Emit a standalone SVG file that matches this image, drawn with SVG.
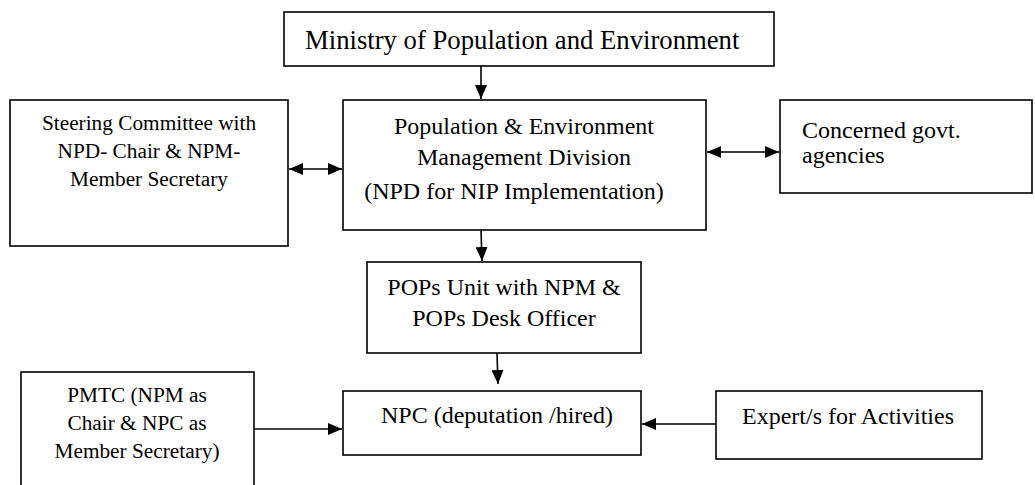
<svg xmlns="http://www.w3.org/2000/svg" width="1035" height="485" viewBox="0 0 1035 485">
  <style>
    .box { fill: #ffffff; stroke: #000000; stroke-width: 1.6; }
    text { font-family: 'Liberation Serif', 'Times New Roman', Times, serif; fill: #000000; }
    .c { text-anchor: middle; }
    .s16 { font-size: 21.3px; }
    .s18 { font-size: 24px; }
    .s20 { font-size: 26.7px; }
    .conn { stroke: #000000; stroke-width: 1.6; fill: none; }
  </style>
  <defs>
    <marker id="arrowL" viewBox="0 0 14 12" refX="14" refY="6" markerWidth="14" markerHeight="12" markerUnits="userSpaceOnUse" orient="auto-start-reverse">
      <path d="M0,0 L14,6 L0,12 Z" fill="#000000"/>
    </marker>
  </defs>
  <rect width="1035" height="485" fill="#ffffff"/>

  <g id="ministry">
    <rect class="box" x="284" y="12" width="490" height="54"/>
    <text class="s20" x="305" y="49">Ministry of Population and Environment</text>
  </g>

  <g id="steering-committee">
    <rect class="box" x="10" y="100" width="278" height="146"/>
    <text class="s16 c" x="149" y="130">Steering Committee with</text>
    <text class="s16 c" x="149" y="158">NPD- Chair &amp; NPM-</text>
    <text class="s16 c" x="149" y="186">Member Secretary</text>
  </g>

  <g id="pem-division">
    <rect class="box" x="343" y="100" width="363" height="130"/>
    <text class="s18 c" x="524" y="134">Population &amp; Environment</text>
    <text class="s18 c" x="524" y="165">Management Division</text>
    <text class="s18 c" x="514" y="199">(NPD for NIP Implementation)</text>
  </g>

  <g id="govt-agencies">
    <rect class="box" x="780" y="100" width="252" height="93"/>
    <text class="s18" x="802" y="138">Concerned govt.</text>
    <text class="s18" x="802" y="163">agencies</text>
  </g>

  <g id="pops-unit">
    <rect class="box" x="367" y="262" width="274" height="91"/>
    <text class="s18 c" x="504" y="295">POPs Unit with NPM &amp;</text>
    <text class="s18 c" x="504" y="326">POPs Desk Officer</text>
  </g>

  <g id="pmtc">
    <rect class="box" x="21" y="372" width="233" height="120"/>
    <text class="s16 c" x="137" y="402">PMTC (NPM as</text>
    <text class="s16 c" x="137" y="430">Chair &amp; NPC as</text>
    <text class="s16 c" x="137" y="458">Member Secretary)</text>
  </g>

  <g id="npc">
    <rect class="box" x="343" y="391" width="298" height="64"/>
    <text class="s18 c" x="497" y="423">NPC (deputation /hired)</text>
  </g>

  <g id="experts">
    <rect class="box" x="716" y="391" width="266" height="68"/>
    <text class="s18 c" x="848" y="424">Expert/s for Activities</text>
  </g>

  <g id="connectors">
    <line class="conn" x1="481" y1="66" x2="481" y2="99" marker-end="url(#arrowL)"/>
    <line class="conn" x1="289" y1="169" x2="342" y2="169" marker-start="url(#arrowL)" marker-end="url(#arrowL)"/>
    <line class="conn" x1="707" y1="152" x2="779" y2="152" marker-start="url(#arrowL)" marker-end="url(#arrowL)"/>
    <line class="conn" x1="481" y1="230" x2="482" y2="261" marker-end="url(#arrowL)"/>
    <line class="conn" x1="497" y1="353" x2="498" y2="384" marker-end="url(#arrowL)"/>
    <line class="conn" x1="254" y1="429" x2="342" y2="429" marker-end="url(#arrowL)"/>
    <line class="conn" x1="716" y1="424" x2="642" y2="424" marker-end="url(#arrowL)"/>
  </g>
</svg>
